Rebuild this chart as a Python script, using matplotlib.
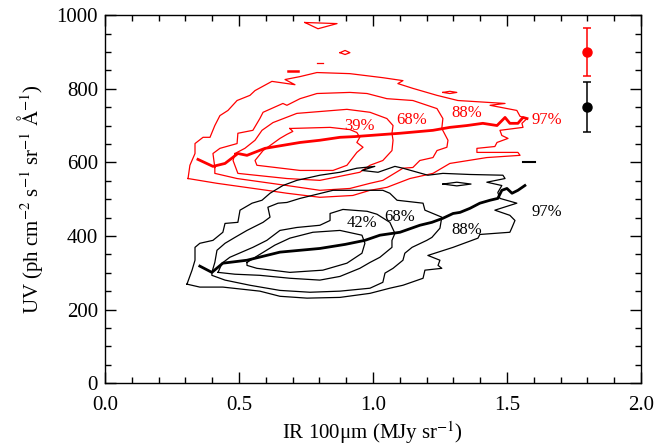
import matplotlib

matplotlib.use('Agg')
import matplotlib.pyplot as plt
from matplotlib.ticker import MultipleLocator

# ---- red (upper) distribution: contour outlines ----
red97_x = [0.31, 0.317, 0.336, 0.336, 0.366, 0.392, 0.41, 0.429, 0.459, 0.493, 0.541, 0.56, 0.623, 0.709, 0.672,
           0.728, 0.791, 0.914, 1.037, 1.112, 1.093, 1.149, 1.239, 1.317, 1.493, 1.437, 1.537, 1.549, 1.575,
           1.556, 1.56, 1.474, 1.481, 1.504, 1.463, 1.455, 1.388, 1.388, 1.541, 1.549, 1.425, 1.287, 1.224,
           1.138, 1.052, 0.989, 0.925, 0.802, 0.679, 0.604, 0.418, 0.31]
red97_y = [556, 592, 624, 651, 668, 668, 700, 727, 741, 768, 782, 795, 820, 811, 825,
           833, 844, 841, 830, 822, 814, 801, 782, 768, 760, 755, 741, 725, 719,
           706, 695, 687, 673, 665, 654, 643, 638, 627, 627, 619, 613, 597, 570,
           556, 532, 524, 510, 505, 516, 524, 543, 556]

red88_x = [0.41, 0.403, 0.429, 0.493, 0.496, 0.552, 0.578, 0.59, 0.664, 0.679, 0.728, 0.791, 0.914, 0.978,
           1.052, 1.149, 1.239, 1.261, 1.257, 1.28, 1.276, 1.239, 1.224, 1.175, 1.149, 1.112, 1.037, 0.989,
           0.914, 0.802, 0.679, 0.493, 0.41, 0.41]
red88_y = [586, 624, 638, 651, 679, 687, 719, 736, 760, 755, 773, 787, 790, 787,
           773, 768, 746, 719, 692, 660, 641, 632, 613, 605, 586, 584, 551, 543,
           529, 524, 537, 556, 570, 586]

red68_x = [0.485, 0.522, 0.56, 0.586, 0.627, 0.716, 0.903, 0.989, 1.052, 1.075, 1.071, 1.075, 1.071, 1.037,
           0.989, 0.951, 0.802, 0.679, 0.496, 0.478, 0.485]
red68_y = [624, 638, 660, 687, 708, 733, 744, 736, 719, 700, 679, 660, 632, 605,
           592, 573, 551, 556, 570, 605, 624]

red39_x = [0.69, 0.84, 0.914, 0.94, 0.951, 0.94, 0.963, 0.94, 0.903, 0.851, 0.728, 0.567, 0.56, 0.59,
           0.653, 0.679, 0.701, 0.69]
red39_y = [692, 695, 689, 681, 668, 654, 641, 627, 592, 578, 578, 592, 605, 632,
           665, 676, 684, 692]

red_med_x = [0.347, 0.403, 0.448, 0.496, 0.53, 0.597, 0.728, 0.802, 0.877, 0.933, 0.989, 1.101, 1.224,
             1.287, 1.351, 1.41, 1.463, 1.493, 1.511, 1.541, 1.56, 1.575]
red_med_y = [608, 589, 597, 624, 619, 638, 654, 660, 668, 670, 673, 679, 687,
             695, 700, 706, 700, 722, 706, 706, 722, 719]

# small isolated red islands
red_isl1_x = [0.746, 0.866, 0.795, 0.746]
red_isl1_y = [980, 977, 963, 980]
red_isl2_x = [0.877, 0.896, 0.914, 0.896, 0.877]
red_isl2_y = [898, 904, 898, 893, 898]
red_isl3_x = [0.791, 0.813]
red_isl3_y = [871, 871]
red_isl4_x = [0.683, 0.72]
red_isl4_y = [849, 849]
red_isl5_x = [1.261, 1.287, 1.313, 1.287, 1.261]
red_isl5_y = [790, 793, 790, 787, 790]

# ---- black (lower) distribution ----
blk97_x = [0.306, 0.325, 0.336, 0.336, 0.354, 0.403, 0.44, 0.448, 0.496, 0.504, 0.549, 0.586, 0.616, 0.664,
           0.716, 0.802, 0.877, 0.94, 1.007, 0.959, 1.019, 1.082, 1.112, 1.205, 1.261, 1.362, 1.485, 1.493,
           1.425, 1.481, 1.466, 1.474, 1.537, 1.455, 1.511, 1.53, 1.519, 1.511, 1.399, 1.392, 1.299, 1.205,
           1.25, 1.243, 1.257, 1.194, 1.187, 1.112, 1.063, 0.989, 0.877, 0.754, 0.653, 0.578, 0.44, 0.354,
           0.306]
blk97_y = [269, 307, 334, 369, 380, 388, 410, 434, 437, 470, 489, 497, 516, 537,
           551, 565, 573, 584, 589, 578, 573, 589, 584, 565, 570, 567, 565, 556,
           546, 537, 518, 502, 489, 470, 456, 442, 423, 410, 404, 394, 369, 347,
           334, 320, 312, 307, 285, 266, 258, 244, 233, 231, 236, 250, 261, 261,
           269]

blk88_x = [0.399, 0.41, 0.418, 0.448, 0.485, 0.53, 0.59, 0.616, 0.608, 0.646, 0.679, 0.728, 0.851, 1.037,
           1.063, 1.09, 1.187, 1.194, 1.257, 1.25, 1.22, 1.201, 1.146, 1.119, 1.112, 1.075, 1.045, 1.037,
           0.989, 0.877, 0.765, 0.653, 0.541, 0.448, 0.399, 0.399]
blk88_y = [301, 328, 361, 380, 396, 415, 437, 451, 478, 489, 491, 502, 524, 524,
           516, 497, 489, 470, 451, 421, 396, 388, 369, 353, 334, 312, 299, 274,
           258, 250, 247, 252, 266, 280, 293, 301]

blk68_x = [0.422, 0.437, 0.466, 0.552, 0.604, 0.653, 0.716, 0.802, 0.84, 0.84, 0.888, 0.978, 1.015, 1.063,
           1.082, 1.071, 1.071, 1.026, 0.989, 0.951, 0.877, 0.802, 0.69, 0.578, 0.485, 0.422]
blk68_y = [301, 326, 342, 369, 388, 415, 423, 429, 442, 461, 472, 467, 459, 437,
           407, 388, 369, 342, 328, 312, 290, 280, 285, 293, 296, 301]

blk42_x = [0.53, 0.567, 0.634, 0.69, 0.776, 0.877, 0.959, 0.97, 0.959, 0.903, 0.813, 0.69, 0.567, 0.53, 0.53]
blk42_y = [328, 345, 375, 394, 410, 415, 402, 380, 353, 326, 307, 301, 312, 320, 328]

blk_med_x = [0.354, 0.399, 0.44, 0.53, 0.653, 0.802, 0.896, 0.97, 1.026, 1.101, 1.175, 1.22, 1.261, 1.299,
             1.325, 1.362, 1.399, 1.437, 1.466, 1.481, 1.5, 1.519, 1.541, 1.567]
blk_med_y = [318, 301, 326, 334, 356, 366, 377, 388, 402, 410, 429, 437, 448, 461,
             464, 475, 489, 497, 502, 524, 529, 516, 524, 537]

blk_isl1_x = [1.261, 1.313, 1.366, 1.313, 1.261]
blk_isl1_y = [541, 546, 541, 536, 541]
blk_isl2_x = [1.56, 1.604]
blk_isl2_y = [600, 600]

# contour level labels
red_lab_text = ['39%', '68%', '88%', '97%']
red_lab_x = [0.951, 1.146, 1.351, 1.649]
red_lab_y = [700, 714, 733, 714]
blk_lab_text = ['42%', '68%', '88%', '97%']
blk_lab_x = [0.959, 1.101, 1.351, 1.649]
blk_lab_y = [434, 451, 415, 464]

# typical error bars
err_x = [1.8, 1.8]
err_y = [900, 750]
err_dy = [66, 68]
err_col = ['red', 'black']

plt.rcParams['font.family'] = ['Liberation Serif', 'DejaVu Serif']
plt.rcParams['mathtext.fontset'] = 'stix'

fig = plt.figure(figsize=(6.56, 4.45), dpi=100)
ax = fig.add_axes([0.160, 0.139, 0.817, 0.827])

lw = 0.9
for xs, ys in [(red97_x, red97_y), (red88_x, red88_y), (red68_x, red68_y), (red39_x, red39_y),
               (red_isl1_x, red_isl1_y), (red_isl2_x, red_isl2_y), (red_isl3_x, red_isl3_y),
               (red_isl5_x, red_isl5_y)]:
    ax.plot(xs, ys, color='red', lw=lw)
ax.plot(red_isl4_x, red_isl4_y, color='red', lw=1.8)
ax.plot(red_med_x, red_med_y, color='red', lw=2.0)

for xs, ys in [(blk97_x, blk97_y), (blk88_x, blk88_y), (blk68_x, blk68_y), (blk42_x, blk42_y),
               (blk_isl1_x, blk_isl1_y)]:
    ax.plot(xs, ys, color='black', lw=lw)
ax.plot(blk_isl2_x, blk_isl2_y, color='black', lw=1.5)
ax.plot(blk_med_x, blk_med_y, color='black', lw=2.0)

for t, x, y in zip(red_lab_text, red_lab_x, red_lab_y):
    ax.text(x, y, t, color='red', fontsize=12, ha='center', va='center')
for t, x, y in zip(blk_lab_text, blk_lab_x, blk_lab_y):
    ax.text(x, y, t, color='black', fontsize=12, ha='center', va='center')

for x, y, dy, c in zip(err_x, err_y, err_dy, err_col):
    ax.errorbar(x, y, yerr=dy, fmt='o', color=c, ms=6.5, capsize=3, elinewidth=1.1, capthick=1.1)

ax.set_xlim(0, 2)
ax.set_ylim(0, 1000)
ax.xaxis.set_major_locator(MultipleLocator(0.5))
ax.xaxis.set_minor_locator(MultipleLocator(0.1))
ax.yaxis.set_major_locator(MultipleLocator(200))
ax.yaxis.set_minor_locator(MultipleLocator(50))
ax.xaxis.set_major_formatter(plt.FuncFormatter(lambda v, p: f'{v:.1f}'))
ax.tick_params(which='both', direction='in', top=True, right=True, labelsize=15, width=1)
ax.tick_params(which='major', length=8)
ax.tick_params(axis='x', which='major', pad=9)
ax.tick_params(axis='y', which='major', pad=5)
ax.tick_params(which='minor', length=4)
for s in ax.spines.values():
    s.set_linewidth(1)

# the bottom y label sits a little above the axis, as in the original
ax.yaxis.get_major_ticks()[0].label1.set_va('bottom')

ax.set_xlabel('IR 100\u03bcm (MJy sr$^{-1}$)', fontsize=15, labelpad=3)
ax.set_ylabel(r'UV (ph cm$^{-2}$ s$^{-1}$ sr$^{-1}$ $\mathrm{\AA}^{-1}$)', fontsize=15, labelpad=8)

plt.savefig('out.png', dpi=100)
